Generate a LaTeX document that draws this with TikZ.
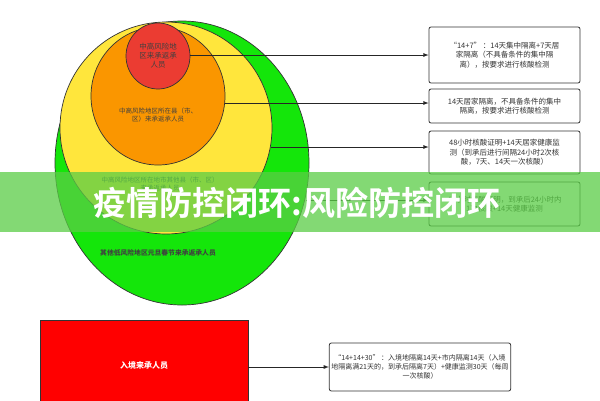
\documentclass[tikz,border=0pt]{standalone}
\usepackage{fontspec}
\setmainfont{Noto Sans CJK SC}
\newfontfamily\cjkb{Noto Sans CJK SC Bold}
\definecolor{cgreen}{RGB}{20,230,10}
\definecolor{cyellow}{RGB}{255,230,60}
\definecolor{corange}{RGB}{250,150,0}
\definecolor{cred}{RGB}{235,60,50}
\definecolor{cbred}{RGB}{255,0,0}
\definecolor{cband}{RGB}{90,205,70}
\begin{document}
\begin{tikzpicture}[x=1pt,y=-1pt,
  circ/.style={draw=black!80,line width=0.7pt},
  lab/.style={font=\fontsize{6.5}{8}\selectfont,align=center,text=black!75},
  box/.style={draw=black!80,line width=0.8pt,rounded corners=2pt,font=\fontsize{7.5}{9.5}\selectfont,align=center,text=black!80,inner sep=2pt},
  arr/.style={draw=black!85,line width=0.8pt,-latex}]
\useasboundingbox (0,0) rectangle (600,400);
\fill[white] (0,0) rectangle (600,400);
\filldraw[circ,fill=cgreen] (182,163) ellipse [x radius=127,y radius=142];
\filldraw[circ,fill=cyellow] (166,128) circle [radius=106];
\filldraw[circ,fill=corange] (158,96) ellipse [x radius=67,y radius=69];
\filldraw[circ,fill=cred] (158,56) ellipse [x radius=32,y radius=33];
\node[lab,font=\fontsize{7.5}{9}\selectfont] (t1) at (158,56) {中高风险地\\区来承返承\\人员};
\node[lab] (t2) at (158,115) {中高风险地区所在县（市、\\区）来承返承人员};
\node[lab] (t3) at (160,184) {中高风险地区所在地市其他县（市、区）\\来承返承人员};
\node[lab,font=\fontsize{6.8}{8}\selectfont\bfseries] (t4) at (158,253) {其他低风险地区元旦春节来承返承人员};
\node[box,minimum width=151pt,minimum height=56pt] (b1) at (504.5,55) {“14+7”\ ：14天集中隔离+7天居\\家隔离（不具备条件的集中隔\\离），按要求进行核酸检测};
\node[box,minimum width=151pt,minimum height=34pt] (b2) at (504.5,106) {14天居家隔离，不具备条件的集中\\隔离，按要求进行核酸检测};
\node[box,minimum width=151pt,minimum height=43pt] (b3) at (504.5,152.5) {48小时核酸证明+14天居家健康监\\测（到承后进行间隔24小时2次核\\酸，7天、14天一次核酸）};
\node[box,minimum width=151pt,minimum height=44pt] (b4) at (504.5,204) {48小时核酸证明，到承后24小时内\\1次核酸+14天健康监测};
\coordinate (c1) at (190,55);
\coordinate (c2) at (225,103);
\coordinate (c3) at (271,147);
\coordinate (c4) at (306,200);
\draw[arr] (c1) -- (b1.west |- c1);
\draw[arr] (c2) -- (b2.west |- c2);
\draw[arr] (c3) -- (b3.west |- c3);
\draw[arr] (c4) -- (b4.west |- c4);
\node[draw=black!80,fill=cbred,minimum width=208pt,minimum height=90pt,font=\fontsize{8}{9}\selectfont\bfseries,text=white] (r) at (144,365) {入境来承人员};
\node[box,font=\fontsize{7}{9}\selectfont,minimum width=174pt,minimum height=48pt] (b5) at (420,367) {“14+14+30”\ ：入境地隔离14天+市内隔离14天（入境\\地隔离满21天的，到承后隔离7天）+健康监测30天（每周\\一次核酸）};
\draw[arr] (r.east |- b5) -- (b5.west);
\fill[cband,opacity=0.75] (0,172) rectangle (600,232);
\node[font=\fontsize{33}{36}\selectfont\cjkb,text=white] (title) at (297,203) {疫情防控闭环:风险防控闭环};
\end{tikzpicture}
\end{document}
